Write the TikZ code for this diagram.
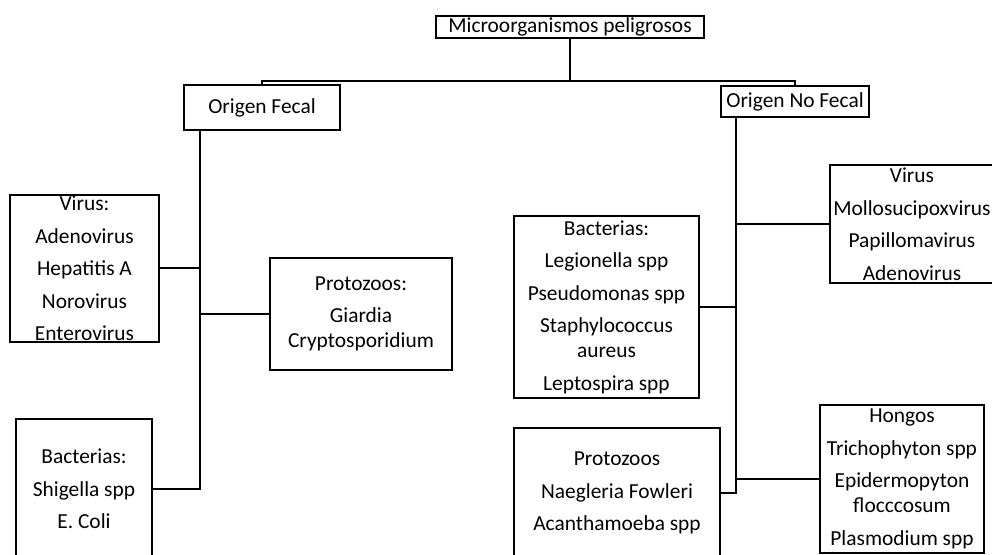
\documentclass[tikz,border=0pt]{standalone}
\usepackage{fontspec}
\setmainfont{Carlito}
\usepackage{tikz}
\usetikzlibrary{calc}

\begin{document}
\begin{tikzpicture}[x=0.5pt, y=-0.5pt, every text node part/.style={align=center},
  font=\fontsize{10.7}{12.5}\selectfont]

\tikzstyle{box}=[draw, line width=1pt, inner sep=0pt]
\tikzstyle{conn}=[draw, line width=1pt]

\useasboundingbox (0, 0) rectangle (992, 555);
\clip (0, 0) rectangle (992, 555);

\node (r0) [box, minimum width=134pt, minimum height=11pt] at (570, 27) {Microorganismos peligrosos};

\node (f0) [box, minimum width=78pt, minimum height=22.5pt] at (262, 107.5) {Origen Fecal};
\node (n0) [box, minimum width=74pt, minimum height=15.5pt] at (795, 101.5) {Origen No Fecal};

\node (f1) [box, minimum width=74.5pt, minimum height=73.5pt] at (84.5, 268.5)
{Virus:\\[3.75pt] Adenovirus\\[3.75pt] Hepatitis A\\[3.75pt] Norovirus\\[3.75pt] Enterovirus};
\node (f2) [box, minimum width=91pt, minimum height=56pt] at (361, 314)
{Protozoos:\\[3.75pt] Giardia\\Cryptosporidium};
\node (f3) [box, minimum width=68pt, minimum height=70pt] at (84, 489)
{Bacterias:\\[3.75pt] Shigella spp\\[3.75pt] E. Coli};

\node (n1) [box, minimum width=82pt, minimum height=59pt] at (912, 224)
{Virus\\[3.75pt] Mollosucipoxvirus\\[3.75pt] Papillomavirus\\[3.75pt] Adenovirus};
\node (n2) [box, minimum width=92.5pt, minimum height=91pt] at (606.5, 307)
{Bacterias:\\[3.75pt] Legionella spp\\[3.75pt] Pseudomonas spp\\[3.75pt] Staphylococcus\\aureus\\[3.75pt] Leptospira spp};
\node (n3) [box, minimum width=103pt, minimum height=65pt] at (617, 493)
{Protozoos\\[3.75pt] Naegleria Fowleri\\[3.75pt] Acanthamoeba spp};
\node (n4) [box, minimum width=82pt, minimum height=74pt] at (902, 479)
{Hongos\\[3.75pt] Trichophyton spp\\[3.75pt] Epidermopyton\\flocccosum\\[3.75pt] Plasmodium spp};

\coordinate (j0) at (570, 81);
\coordinate (fx) at (200, 0);
\coordinate (nx) at (736, 0);

\path [conn] (r0.south) -- (j0);
\path [conn] (f0.north) |- (j0) -| (n0.north);

\path [conn] (f0.south -| fx) |- (f3.east);
\path [conn] (f1.east) -- (f1.east -| fx);
\path [conn] (f2.west) -- (f2.west -| fx);

\path [conn] (n0.south -| nx) |- (n3.east);
\path [conn] (n1.west) -- (n1.west -| nx);
\path [conn] (n2.east) -- (n2.east -| nx);
\path [conn] (n4.west) -- (n4.west -| nx);

\end{tikzpicture}
\end{document}
